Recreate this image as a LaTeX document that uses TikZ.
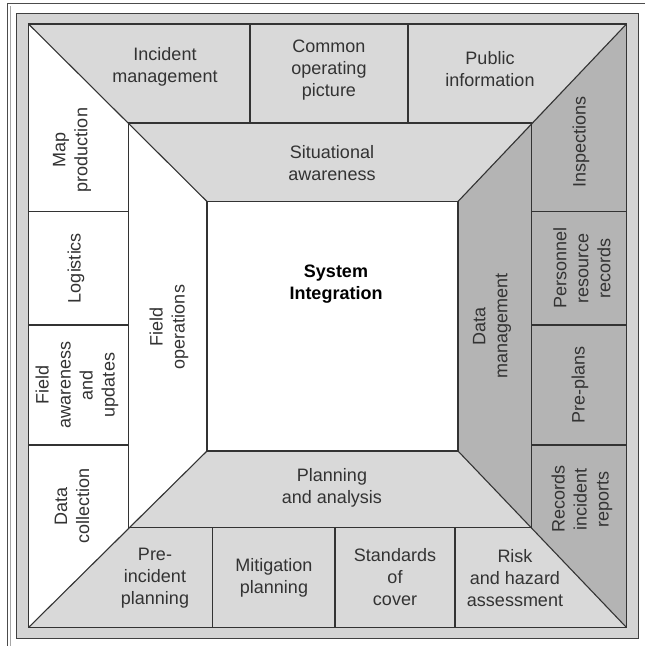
\documentclass[tikz,border=0pt]{standalone}
\usepackage{fontspec}
\setmainfont{Liberation Sans}
\begin{document}
\begin{tikzpicture}[x=1pt,y=-1pt,
  edge/.style={draw=black!80,line width=1.1pt},
  lbl/.style={align=center,font=\fontsize{18}{22}\selectfont,text=black!80,inner sep=0pt},
  vlbl/.style={lbl,rotate=90}]
\definecolor{lgray}{HTML}{D9D9D9}
\definecolor{dgray}{HTML}{B4B4B4}
\definecolor{bgray}{HTML}{D4D4D4}
\useasboundingbox (0,0) rectangle (645,646);
% outer frame lines (clipped)
\draw[black!70,line width=0.8pt] (7.5,646) -- (7.5,3) -- (645,3);
\draw[black!35,line width=0.6pt] (10.5,646) -- (10.5,5.5);
% gray band
\filldraw[fill=bgray,draw=black!75,line width=0.9pt] (16,13) rectangle (638,638);
% coordinates
\coordinate (OTL) at (28.5,24);   \coordinate (OTR) at (626.5,24);
\coordinate (OBL) at (28.5,627.5);\coordinate (OBR) at (626.5,627.5);
\coordinate (ATL) at (128.5,123); \coordinate (ATR) at (531.5,123);
\coordinate (ABL) at (128.5,527.5);\coordinate (ABR) at (531.5,527.5);
\coordinate (CTL) at (207,201.5); \coordinate (CTR) at (458,201.5);
\coordinate (CBL) at (207,451);   \coordinate (CBR) at (458,451);
% outer ring
\fill[lgray] (OTL) -- (OTR) -- (ATR) -- (ATL) -- cycle;
\fill[white] (OTL) -- (ATL) -- (ABL) -- (OBL) -- cycle;
\fill[dgray] (OTR) -- (OBR) -- (ABR) -- (ATR) -- cycle;
\fill[lgray] (OBL) -- (OBR) -- (ABR) -- (ABL) -- cycle;
% inner ring
\fill[lgray] (ATL) -- (ATR) -- (CTR) -- (CTL) -- cycle;
\fill[white] (ATL) -- (CTL) -- (CBL) -- (ABL) -- cycle;
\fill[dgray] (ATR) -- (ABR) -- (CBR) -- (CTR) -- cycle;
\fill[lgray] (ABL) -- (ABR) -- (CBR) -- (CBL) -- cycle;
\fill[white] (CTL) rectangle (CBR);
% outlines
\draw[edge] (OTL) rectangle (OBR);
\draw[edge] (ATL) rectangle (ABR);
\draw[edge] (CTL) rectangle (CBR);
\draw[edge] (OTL) -- (CTL) (OTR) -- (CTR) (OBL) -- (CBL) (OBR) -- (CBR);
% dividers
\draw[edge] (250,24) -- (250,123) (408,24) -- (408,123);
\draw[edge] (28.5,211.7) -- (128.5,211.7) (28.5,325) -- (128.5,325) (28.5,445) -- (128.5,445);
\draw[edge] (531.5,211.7) -- (626.5,211.7) (531.5,325) -- (626.5,325) (531.5,445) -- (626.5,445);
\draw[edge] (212.7,527.5) -- (212.7,627.5) (335,527.5) -- (335,627.5) (455,527.5) -- (455,627.5);
% top labels
\node[lbl] (im) at (165,67) {Incident\\management};
\node[lbl] (cop) at (329,70) {Common\\operating\\picture};
\node[lbl] (pi) at (490,69) {Public\\information};
% left labels
\node[vlbl] (mp) at (72,150) {Map\\production};
\node[vlbl] (lo) at (76,268) {Logistics};
\node[vlbl] (fa) at (77,385) {Field\\awareness\\and\\updates};
\node[vlbl] (dc) at (72,506) {Data\\collection};
% right labels
\node[vlbl] (in) at (581,142) {Inspections};
\node[vlbl] (prr) at (582,268) {Personnel\\resource\\records};
\node[vlbl] (pp) at (580,385) {Pre-plans};
\node[vlbl] (rir) at (582,499) {Records\\incident\\reports};
% bottom labels
\node[lbl] (pip) at (155,578) {Pre-\\incident\\planning};
\node[lbl] (mip) at (274,578) {Mitigation\\planning};
\node[lbl] (soc) at (395,577) {Standards\\of\\cover};
\node[lbl] (rha) at (515,578) {Risk\\and hazard\\assessment};
% inner ring labels
\node[lbl] (sa) at (332,163) {Situational\\awareness};
\node[vlbl] (fo) at (169,327) {Field\\operations};
\node[vlbl] (dm) at (492,326) {Data\\management};
\node[lbl] (pa) at (332,488) {Planning\\and analysis};
\node[lbl,font=\fontsize{18}{22}\selectfont\bfseries,text=black] (si) at (336,284) {System\\Integration};
\end{tikzpicture}
\end{document}
